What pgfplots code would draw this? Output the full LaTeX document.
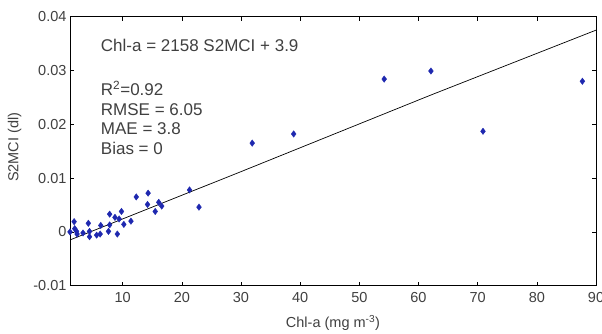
\documentclass[border=0pt]{standalone}
\usepackage{pgfplots}
\pgfplotsset{compat=1.18}
\usepackage{fontspec}
\setmainfont{Liberation Sans}
\definecolor{ptblue}{RGB}{30,40,175}
\begin{document}
\begin{tikzpicture}
\useasboundingbox (-70pt,-48pt) rectangle (532pt,285.7pt);
\begin{axis}[
  at={(0,0)}, anchor=south west,
  scale only axis, width=526pt, height=269pt,
  xmin=1.1, xmax=90, ymin=-0.01, ymax=0.04,
  xtick={10,20,...,90}, ytick={-0.01,0,0.01,0.02,0.03,0.04},
  scaled y ticks=false,
  yticklabel style={/pgf/number format/fixed,/pgf/number format/precision=2},
  xticklabel style={yshift=-3pt},
  /pgf/number format/assume math mode=true,
  tick align=inside, major tick length=4pt,
  xtick pos=both, ytick pos=both,
  axis line style={black, line width=0.8pt},
  tick style={black, line width=0.6pt},
  ticklabel style={font=\fontsize{14.5}{16}\selectfont, text=black!75},
  label style={font=\fontsize{14.5}{16}\selectfont, text=black!75},
  xlabel={Chl-a (mg m\textsuperscript{-3})},
  ylabel={S2MCI (dl)},
  xlabel style={at={(axis description cs:0.5,0)}, anchor=north, yshift=-26pt},
  ylabel style={at={(axis description cs:0,0.5)}, anchor=south, yshift=45pt, xshift=4pt},
  clip=false,
]
\addplot[black, line width=0.7pt] coordinates {(1.1,-0.0015) (30,0.0112) (62,0.0254) (90,0.0375)};
\addplot[only marks, mark=diamond*, mark size=3.2pt, ptblue, mark options={draw=ptblue, fill=ptblue}] coordinates {
(1.1,0) (1.8,0.0019) (1.9,0.0006) (2.2,0.0001) (2.3,-0.0004) (3.3,-0.0002)
(4.2,0.0016) (4.4,0.0001) (4.4,-0.0009) (5.6,-0.0006) (6.2,-0.0004) (6.3,0.0012)
(7.6,0.0001) (7.8,0.0013) (7.8,0.0033) (8.7,0.0027) (9.1,-0.0004) (9.4,0.0024)
(9.8,0.0038) (10.2,0.0014) (11.4,0.0020) (12.3,0.0065) (14.3,0.0072) (14.2,0.0051)
(15.5,0.0038) (16.1,0.0055) (16.6,0.0048) (21.3,0.0078) (22.9,0.0046)
(31.9,0.0165) (38.9,0.0182) (54.2,0.0284) (62.1,0.0299) (70.9,0.0187) (87.7,0.0280)
};
\node[anchor=west, inner sep=0pt, font=\fontsize{17}{19}\selectfont, text=black!75] at (axis cs:6.3,0.0347) {Chl-a = 2158 S2MCI + 3.9};
\node[anchor=north west, align=left, font=\fontsize{17}{19.6}\selectfont, text=black!75, inner sep=0pt] at (axis cs:6.3,0.0281) {R\textsuperscript{2}=0.92\\RMSE = 6.05\\MAE = 3.8\\Bias = 0};
\end{axis}
\end{tikzpicture}
\end{document}
